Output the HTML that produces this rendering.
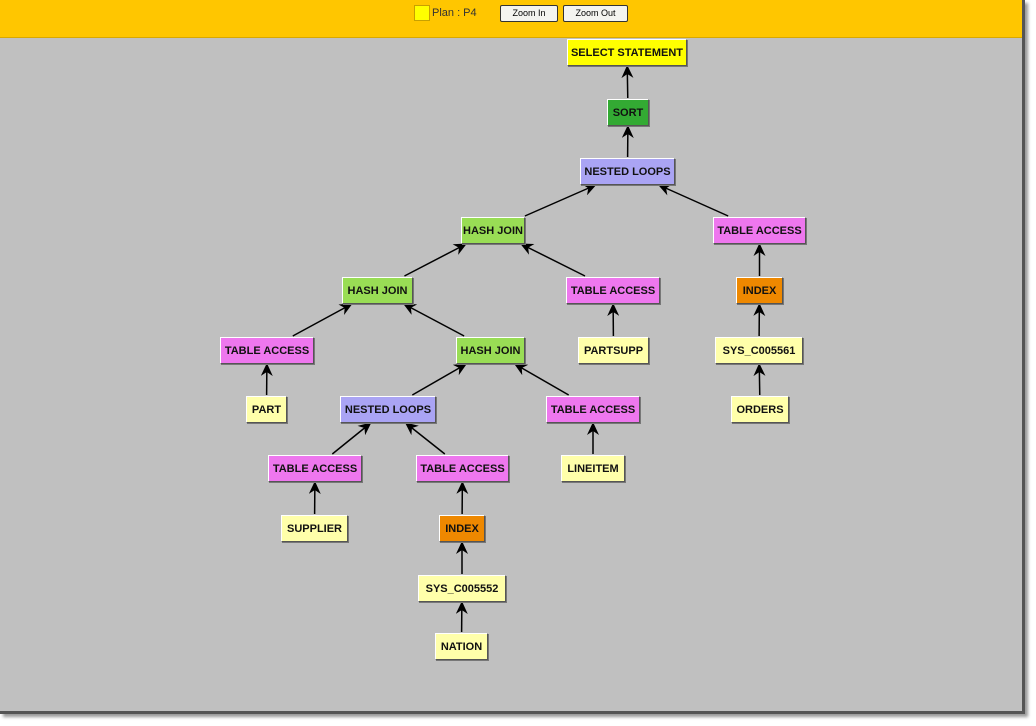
<!DOCTYPE html>
<html><head><style>
body{margin:0;width:1036px;height:726px;background:#fff;position:relative;overflow:hidden;font-family:"Liberation Sans",Arial,sans-serif}
#frame{position:absolute;left:0;top:0;width:1022px;height:711px;background:#c0c0c0;border-right:3px solid #555;border-bottom:3px solid #555;box-shadow:3px 3px 3px #999}
#bar{position:absolute;left:0;top:0;width:1022px;height:37px;background:#ffc600;border-bottom:1px solid #d9a800}
.sq{position:absolute;left:414px;top:5px;width:14px;height:14px;background:#ffff00;border:1px solid #c8a000}
.pl{position:absolute;left:432px;top:7px;font-size:11px;color:#333}
.btn{position:absolute;top:5px;height:15px;background:#f4f4f0;border:1px solid #333;border-radius:2px;font-size:9px;text-align:center;line-height:15px}
.n{position:absolute;font-size:11px;font-weight:bold;color:#111;text-align:center;box-sizing:border-box;border:1px solid;border-color:#fff #555 #555 #fff;box-shadow:1px 1px 0 #777}
svg{position:absolute;left:0;top:0}
</style></head><body>
<div id="frame"></div>
<div id="bar"><div class="sq"></div><div class="pl">Plan : P4</div>
<div class="btn" style="left:500px;width:56px">Zoom In</div>
<div class="btn" style="left:563px;width:63px">Zoom Out</div></div>
<svg width="1036" height="726" id="s"><defs><marker id="a" markerWidth="13" markerHeight="12" refX="12" refY="6" orient="auto" markerUnits="userSpaceOnUse"><path d="M0,0 L13,6 L0,12 L4,6z" fill="#000"/></marker></defs></svg>
<div id="nodes"></div>
<script>
var C={y:"#ffff00",g:"#33aa33",p:"#aaa4f4",l:"#99dd55",k:"#ee77ee",o:"#ee8800",w:"#ffffaa"};
var N=[
["SELECT STATEMENT",567,687,52,"y"],["SORT",607,649,112,"g"],["NESTED LOOPS",580,675,171,"p"],
["HASH JOIN",461,525,230,"l"],["TABLE ACCESS",713,806,230,"k"],["HASH JOIN",342,413,290,"l"],
["TABLE ACCESS",566,660,290,"k"],["INDEX",736,783,290,"o"],["TABLE ACCESS",220,314,350,"k"],
["HASH JOIN",456,525,350,"l"],["PARTSUPP",578,649,350,"w"],["SYS_C005561",715,803,350,"w"],
["PART",246,287,409,"w"],["NESTED LOOPS",340,436,409,"p"],["TABLE ACCESS",546,640,409,"k"],
["ORDERS",731,789,409,"w"],["TABLE ACCESS",268,362,468,"k"],["TABLE ACCESS",416,509,468,"k"],
["LINEITEM",561,625,468,"w"],["SUPPLIER",281,348,528,"w"],["INDEX",439,485,528,"o"],
["SYS_C005552",418,506,588,"w"],["NATION",435,488,646,"w"]];
var E=[[1,0],[2,1],[3,2],[4,2],[5,3],[6,3],[7,4],[8,5],[9,5],[10,6],[11,7],[12,8],[13,9],[14,9],[15,11],[16,13],[17,13],[18,14],[19,16],[20,17],[21,20],[22,21]];
var h="";N.forEach(function(n){h+='<div class="n" style="left:'+n[1]+'px;top:'+(n[3]-13)+'px;width:'+(n[2]-n[1])+'px;height:27px;line-height:27px;background:'+C[n[4]]+'">'+n[0]+'</div>';});
document.getElementById("nodes").innerHTML=h;
function clip(n,dx,dy){var hw=(n[2]-n[1])/2+1,hh=14;return Math.min(hw/Math.abs(dx||1e-9),hh/Math.abs(dy||1e-9));}
var s="";E.forEach(function(e){var c=N[e[0]],p=N[e[1]];var cx=(c[1]+c[2])/2,cy=c[3],px=(p[1]+p[2])/2,py=p[3];
var dx=px-cx,dy=py-cy;var t1=clip(c,dx,dy),t2=clip(p,-dx,-dy);
s+='<line x1="'+(cx+dx*t1)+'" y1="'+(cy+dy*t1)+'" x2="'+(px-dx*t2)+'" y2="'+(py-dy*t2)+'" stroke="#000" stroke-width="1.5" marker-end="url(#a)"/>';});
document.getElementById("s").insertAdjacentHTML("beforeend",s);
</script>
</body></html>
